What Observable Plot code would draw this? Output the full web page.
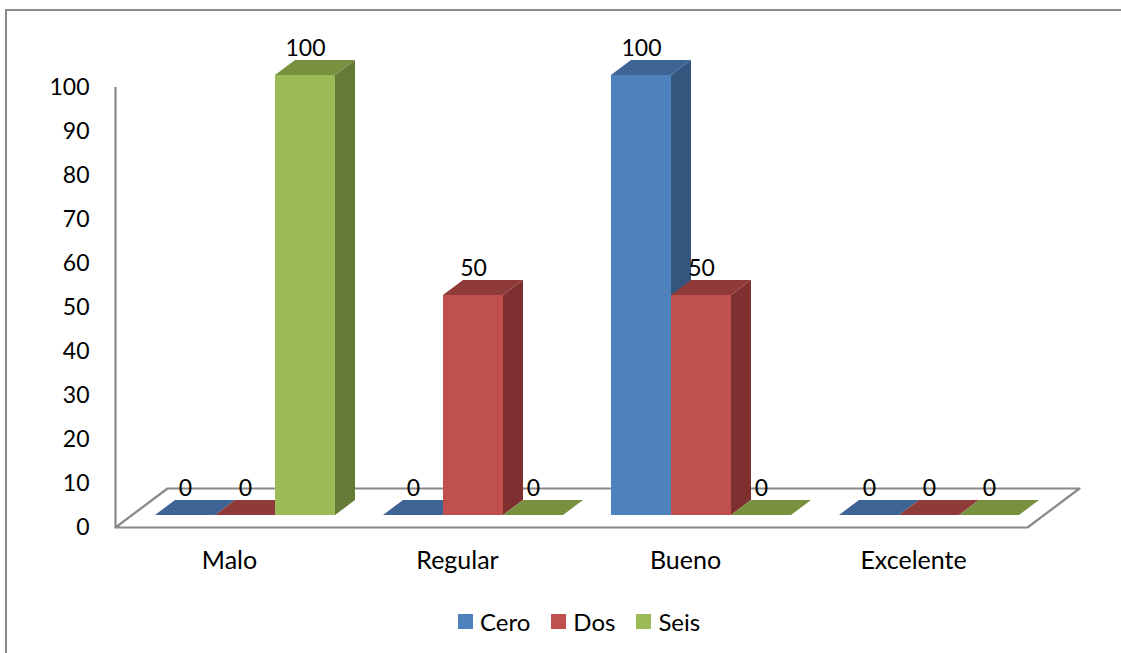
<!DOCTYPE html>
<html>
<head>
<meta charset="utf-8">
<script src="https://cdn.jsdelivr.net/npm/d3@7"></script>
<script src="https://cdn.jsdelivr.net/npm/@observablehq/plot@0.6"></script>
<style>
  html, body { margin: 0; padding: 0; background: #fff; }
  #wrap { position: relative; width: 1121px; height: 653px; overflow: hidden; background: #fff; font-family: Lato, "Open Sans", sans-serif; }
  #frame { position: absolute; left: 5px; top: 9px; width: 1200px; height: 700px; border-left: 2px solid #8a8a8a; border-top: 2px solid #8a8a8a; box-sizing: border-box; }
  #chart { position: absolute; left: 0; top: 0; }
  #legend { position: absolute; left: 458px; top: 605px; }
  #legend .lg-swatch { margin-right: 21px !important; }
  #legend .lg-swatch > svg { margin-right: 7px !important; }
</style>
</head>
<body>
<div id="wrap">
  <div id="frame"></div>
  <div id="chart"></div>
  <div id="legend"></div>
</div>
<script>
// ---- data ----
const categories = ["Malo", "Regular", "Bueno", "Excelente"];
const series = ["Cero", "Dos", "Seis"];
const cero = [0, 0, 100, 0];
const dos = [0, 50, 50, 0];
const seis = [100, 0, 0, 0];
const yTicks = [0, 10, 20, 30, 40, 50, 60, 70, 80, 90, 100];

// ---- styles ----
const frontColors = ["#4F81BD", "#C0504D", "#9BBB59"];
const sideColors = ["#34567E", "#7D302F", "#667A37"];
const topColors = ["#3D6494", "#8F3B39", "#77913F"];
const gridColor = "#898989";
const font = "Lato, 'Open Sans', sans-serif";

// ---- layout ----
const W = 1121, H = 605;
const mL = 115, mR = 94, mT = 87, mB = H - 527;
const ux = categories.length / (W - mL - mR); // x data units per pixel
const uy = 100 / (H - mT - mB);              // y data units per pixel
const barW = 60 * ux, groupPad = 24 * ux;
const depthX = 20 * ux, depthY = 15 * uy;     // bar depth
const floorX = 52 * ux, floorY = 39 * uy;     // floor depth
const offX = 16, offY = -12;                  // bar front-face offset into the floor (px)

const valuesBySeries = [cero, dos, seis];
const rows = [];
categories.forEach((cat, i) => {
  series.forEach((s, j) => {
    const x1 = i + groupPad + j * barW;
    rows.push({cat, s, j, id: `${i}-${j}`, value: valuesBySeries[j][i], x1, x2: x1 + barW});
  });
});

const sidePts = rows.flatMap(d => [
  {id: d.id, j: d.j, x: d.x2, y1: 0, y2: d.value},
  {id: d.id, j: d.j, x: d.x2 + depthX, y1: depthY, y2: d.value + depthY}
]);
const topPts = rows.flatMap(d => [
  {id: d.id, j: d.j, y: d.value, x1: d.x1, x2: d.x2},
  {id: d.id, j: d.j, y: d.value + depthY, x1: d.x1 + depthX, x2: d.x2 + depthX}
]);

const floor = [
  {x: 0, y: 0}, {x: categories.length, y: 0},
  {x: categories.length + floorX, y: floorY}, {x: floorX, y: floorY}, {x: 0, y: 0}
];

const marks = [
  Plot.line(floor, {x: "x", y: "y", stroke: gridColor, strokeWidth: 2.2}),
  Plot.ruleX([0], {y1: 0, y2: 100, stroke: gridColor, strokeWidth: 2.2}),
  Plot.axisY(yTicks, {tickSize: 0, tickPadding: 26, fontSize: 23, fill: "#000"}),
  Plot.text(categories, {x: (d, i) => i + 0.5, y: () => 0, dy: 33, text: d => d, fontSize: 25, fill: "#000"})
];
series.forEach((s, j) => {
  marks.push(Plot.areaY(sidePts.filter(p => p.j === j), {x: "x", y1: "y1", y2: "y2", z: "id", fill: sideColors[j], dx: offX, dy: offY}));
});
series.forEach((s, j) => {
  marks.push(Plot.areaX(topPts.filter(p => p.j === j), {y: "y", x1: "x1", x2: "x2", z: "id", fill: topColors[j], dx: offX, dy: offY}));
});
series.forEach((s, j) => {
  marks.push(Plot.rectY(rows.filter(d => d.j === j && d.value > 0), {x1: "x1", x2: "x2", y1: () => 0, y2: "value", fill: frontColors[j], dx: offX, dy: offY}));
});
marks.push(Plot.text(rows, {x: d => (d.x1 + d.x2) / 2, y: "value", text: d => String(d.value), dx: offX, dy: offY - 27, fontSize: 23, fill: "#000"}));

const chart = Plot.plot({
  width: W, height: H,
  marginLeft: mL, marginRight: mR, marginTop: mT, marginBottom: mB,
  x: {domain: [0, categories.length], axis: null},
  y: {domain: [0, 100], axis: null},
  style: {fontFamily: font, fontSize: "23px", color: "#000", background: "transparent", overflow: "visible"},
  marks
});
document.getElementById("chart").appendChild(chart);

const legend = Plot.legend({
  color: {domain: series, range: frontColors},
  legend: "swatches",
  swatchSize: 15,
  className: "lg",
  style: {fontFamily: font, fontSize: "24px", color: "#000"}
});
document.getElementById("legend").appendChild(legend);
</script>
</body>
</html>
